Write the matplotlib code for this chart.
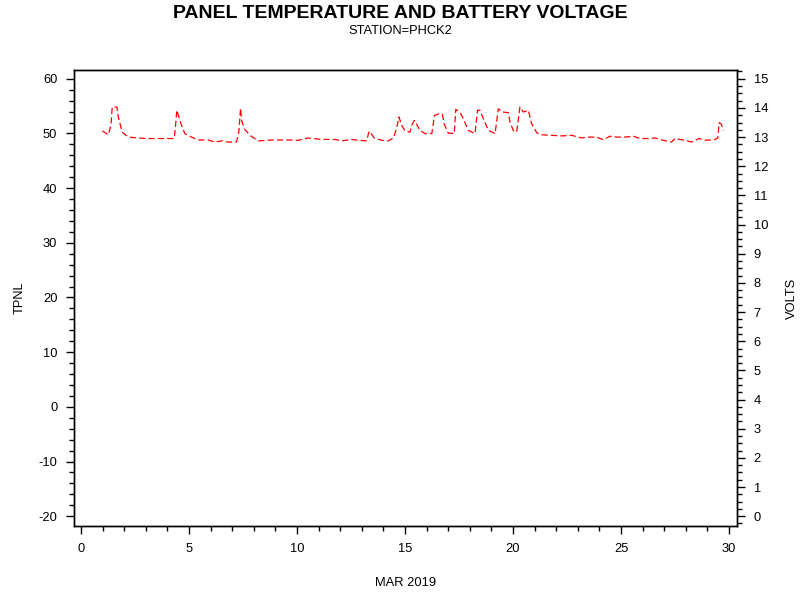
import matplotlib
matplotlib.use("Agg")
import matplotlib.pyplot as plt
from matplotlib.ticker import MultipleLocator

plt.rcParams["font.family"] = ["Liberation Sans", "DejaVu Sans"]
plt.rcParams["axes.unicode_minus"] = False

# day of month (MAR 2019) and battery voltage
day = [0.99, 1.27, 1.39, 1.45, 1.67, 1.73, 1.91, 2.19, 2.65, 3.12,
       4.04, 4.32, 4.38, 4.44, 4.49, 4.63, 4.81, 5.12, 5.43, 5.89,
       6.20, 6.51, 6.82, 7.20, 7.31, 7.39, 7.44, 7.56, 7.82, 8.21,
       8.83, 9.60, 10.06, 10.52, 11.14, 11.76, 12.07, 12.53, 12.84, 13.22,
       13.33, 13.39, 13.45, 13.58, 13.92, 14.23, 14.46, 14.61, 14.72, 14.85,
       15.00, 15.23, 15.31, 15.43, 15.50, 15.69, 15.93, 16.24, 16.31, 16.36,
       16.54, 16.73, 16.81, 17.00, 17.28, 17.35, 17.55, 17.70, 17.93, 18.24,
       18.36, 18.47, 18.63, 18.86, 19.17, 19.32, 19.50, 19.78, 19.86, 20.01,
       20.17, 20.32, 20.48, 20.71, 20.86, 21.10, 21.33, 21.79, 22.25, 22.72,
       23.18, 23.49, 23.87, 24.18, 24.49, 24.80, 25.19, 25.57, 25.88, 26.27,
       26.57, 26.96, 27.34, 27.50, 27.96, 28.27, 28.61, 28.92, 29.32, 29.48,
       29.54, 29.63, 29.74]
volts = [13.21, 13.08, 13.40, 14.03, 14.03, 13.69, 13.17, 13.00, 12.97, 12.95,
         12.95, 12.95, 13.40, 13.92, 13.80, 13.46, 13.12, 13.00, 12.90, 12.90,
         12.83, 12.87, 12.83, 12.83, 13.17, 13.99, 13.57, 13.29, 13.06, 12.87,
         12.90, 12.90, 12.89, 12.97, 12.92, 12.92, 12.87, 12.92, 12.89, 12.87,
         13.17, 13.20, 13.10, 12.97, 12.89, 12.87, 12.97, 13.29, 13.69, 13.40,
         13.21, 13.17, 13.40, 13.57, 13.50, 13.23, 13.12, 13.12, 13.46, 13.74,
         13.79, 13.79, 13.46, 13.14, 13.12, 13.95, 13.84, 13.63, 13.23, 13.12,
         13.92, 13.92, 13.63, 13.23, 13.12, 13.97, 13.86, 13.84, 13.52, 13.23,
         13.17, 14.03, 13.86, 13.92, 13.46, 13.15, 13.08, 13.06, 13.04, 13.06,
         12.97, 13.00, 13.00, 12.91, 13.03, 13.00, 13.00, 13.03, 12.95, 12.95,
         12.97, 12.89, 12.83, 12.95, 12.89, 12.83, 12.95, 12.89, 12.91, 12.97,
         13.49, 13.46, 13.23]

x_ticks = [0, 5, 10, 15, 20, 25, 30]
tpnl_ticks = [-20, -10, 0, 10, 20, 30, 40, 50, 60]
volt_ticks = list(range(0, 16))

fig = plt.figure(figsize=(8, 6), dpi=100)
ax = fig.add_axes([0.0925, 0.1233, 0.8288, 0.76])

tpnl_lo, tpnl_hi = -21.8, 61.6
ax.set_xlim(-0.32, 30.37)
ax.set_ylim(tpnl_lo, tpnl_hi)
ax.set_xticks(x_ticks)
ax.set_yticks(tpnl_ticks)
ax.xaxis.set_minor_locator(MultipleLocator(1))
ax.yaxis.set_minor_locator(MultipleLocator(2))
ax.tick_params(which="major", direction="out", length=6, width=1, labelsize=9.3, pad=6)
ax.tick_params(which="minor", direction="out", length=3.5, width=1)
ax.tick_params(axis="x", top=False, which="both")
ax.set_ylabel("TPNL", fontsize=9.3, labelpad=9)
ax.set_xlabel("MAR 2019", fontsize=9.3, labelpad=16)

ax2 = ax.twinx()
ax2.set_ylim((tpnl_lo + 20) * 15 / 80, (tpnl_hi + 20) * 15 / 80)
ax2.set_yticks(volt_ticks)
ax2.yaxis.set_minor_locator(MultipleLocator(0.25))
ax2.tick_params(which="major", direction="out", length=6, width=1, labelsize=9.3, pad=6)
ax2.tick_params(which="minor", direction="out", length=3.5, width=1)
ax2.set_ylabel("VOLTS", fontsize=9.3, rotation=90, labelpad=13)

ax2.plot(day, volts, color="red", linewidth=0.9, linestyle=(0, (5, 2.5)))

for a in (ax, ax2):
    for s in a.spines.values():
        s.set_linewidth(1)
        s.set_color("black")

fig.text(0.5, 0.992, "PANEL TEMPERATURE AND BATTERY VOLTAGE", ha="center", va="top",
         fontsize=14, fontweight="bold")
fig.text(0.5, 0.959, "STATION=PHCK2", ha="center", va="top", fontsize=9.3)

fig.savefig("out.png", dpi=100)
